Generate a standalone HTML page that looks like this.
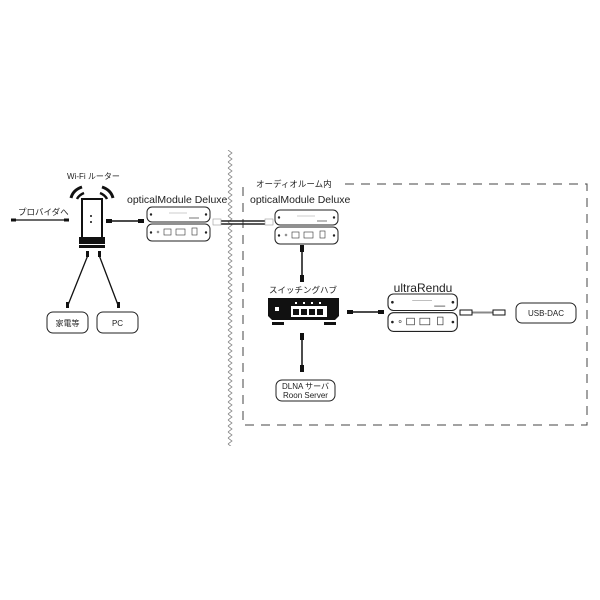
<!DOCTYPE html>
<html><head><meta charset="utf-8"><style>
html,body{margin:0;padding:0;background:#fff;width:600px;height:600px;overflow:hidden}
text{font-family:"Liberation Sans","Noto Sans CJK JP",sans-serif;fill:#222}
</style></head><body>
<svg width="600" height="600" viewBox="0 0 600 600" xmlns="http://www.w3.org/2000/svg">
<defs>
<pattern id="zz" x="226" y="0" width="8" height="6" patternUnits="userSpaceOnUse">
<polyline points="2,0 6,3 2,6" fill="none" stroke="#888" stroke-width="0.8"/>
</pattern>
<g id="mod">
<rect x="0" y="0" width="63" height="15" rx="5" fill="#fff" stroke="#222" stroke-width="1"/>
<rect x="0" y="17" width="63" height="17" rx="5" fill="#fff" stroke="#222" stroke-width="1"/>
<circle cx="4" cy="7.5" r="1.2" fill="#222"/><circle cx="59" cy="7.5" r="1.2" fill="#222"/>
<circle cx="4" cy="25.5" r="1.2" fill="#222"/><circle cx="59" cy="25.5" r="1.2" fill="#222"/>
<line x1="22" y1="6" x2="40" y2="6" stroke="#999" stroke-width="0.6"/>
<line x1="42" y1="11" x2="52" y2="11" stroke="#555" stroke-width="0.8"/>
<rect x="17" y="22" width="7" height="6" fill="none" stroke="#333" stroke-width="0.6"/>
<rect x="29" y="22" width="9" height="6" fill="none" stroke="#333" stroke-width="0.6"/>
<rect x="45" y="21" width="5" height="7" fill="none" stroke="#333" stroke-width="0.6"/>
<circle cx="11" cy="25" r="1" fill="none" stroke="#333" stroke-width="0.5"/>
</g>
</defs>
<rect x="226" y="150" width="8" height="296" fill="url(#zz)"/>
<path d="M345 184 H587 V425 H243 V184" fill="none" stroke="#444" stroke-width="1" stroke-dasharray="9,7"/>
<text x="256" y="187" font-size="8.5">オーディオルーム内</text>

<!-- router -->
<path d="M71 198 Q73 190 82 187" fill="none" stroke="#111" stroke-width="3"/>
<path d="M77 199 Q79 195 84 193" fill="none" stroke="#111" stroke-width="2.5"/>
<path d="M113 198 Q111 190 102 187" fill="none" stroke="#111" stroke-width="3"/>
<path d="M107 199 Q105 195 100 193" fill="none" stroke="#111" stroke-width="2.5"/>
<rect x="82" y="199" width="20" height="39" fill="#fff" stroke="#111" stroke-width="2"/>
<line x1="91" y1="215" x2="91" y2="217" stroke="#111" stroke-width="1.5"/>
<line x1="91" y1="221" x2="91" y2="223" stroke="#111" stroke-width="1.5"/>
<rect x="79" y="237" width="26" height="7" fill="#111"/>
<rect x="79" y="245" width="26" height="3" fill="#111"/>
<text x="67" y="179" font-size="8">Wi-Fi ルーター</text>
<text x="18" y="215" font-size="8.5">プロバイダへ</text>
<line x1="12" y1="220" x2="68" y2="220" stroke="#111" stroke-width="1.2"/>
<rect x="11" y="218.5" width="5" height="3" fill="#111"/><rect x="64" y="218.5" width="5" height="3" fill="#111"/>
<line x1="107" y1="221" x2="143" y2="221" stroke="#111" stroke-width="1.5"/>
<rect x="106" y="219" width="6" height="4" fill="#111"/><rect x="138" y="219" width="6" height="4" fill="#111"/>
<line x1="88" y1="255" x2="68" y2="305" stroke="#111" stroke-width="1.3"/>
<line x1="99" y1="255" x2="118" y2="305" stroke="#111" stroke-width="1.3"/>
<rect x="86" y="251" width="3" height="6" fill="#111"/><rect x="98" y="251" width="3" height="6" fill="#111"/>
<rect x="66" y="302" width="3" height="6" fill="#111"/><rect x="117" y="302" width="3" height="6" fill="#111"/>
<rect x="47" y="312" width="41" height="21" rx="6" fill="#fff" stroke="#222"/>
<text x="67.5" y="326" font-size="8" text-anchor="middle">家電等</text>
<rect x="97" y="312" width="41" height="21" rx="6" fill="#fff" stroke="#222"/>
<text x="117.5" y="326" font-size="8" text-anchor="middle">PC</text>

<text x="127" y="203" font-size="10.5">opticalModule Deluxe</text>
<use href="#mod" x="147" y="207"/>
<!-- fiber -->
<line x1="220" y1="221" x2="266" y2="221" stroke="#222" stroke-width="1.6"/>
<line x1="220" y1="224" x2="266" y2="224" stroke="#222" stroke-width="1.6"/>
<rect x="213" y="219" width="8" height="6" fill="#fff" stroke="#999" stroke-width="0.6"/>
<rect x="265" y="219" width="8" height="6" fill="#fff" stroke="#999" stroke-width="0.6"/>

<text x="250" y="203" font-size="10.5">opticalModule Deluxe</text>
<use href="#mod" x="275" y="210"/>
<line x1="302" y1="247" x2="302" y2="280" stroke="#111" stroke-width="1.5"/>
<rect x="300" y="245" width="4" height="7" fill="#111"/><rect x="300" y="275" width="4" height="7" fill="#111"/>

<text x="303" y="293" font-size="8.5" text-anchor="middle">スイッチングハブ</text>
<path d="M268 298 H339 V316 L335 320 H272 L268 316 Z" fill="#111"/>
<rect x="272" y="322" width="12" height="3" fill="#111"/><rect x="324" y="322" width="12" height="3" fill="#111"/>
<rect x="275" y="307" width="4" height="4" fill="#fff"/>
<rect x="291" y="306" width="36" height="11" fill="#fff"/>
<g fill="#111"><rect x="293" y="309" width="6" height="6"/><rect x="301" y="309" width="6" height="6"/><rect x="309" y="309" width="6" height="6"/><rect x="317" y="309" width="6" height="6"/></g>
<g fill="#fff"><rect x="295" y="302" width="2" height="2"/><rect x="303" y="302" width="2" height="2"/><rect x="311" y="302" width="2" height="2"/><rect x="319" y="302" width="2" height="2"/></g>
<line x1="348" y1="312" x2="382" y2="312" stroke="#111" stroke-width="1.5"/>
<rect x="347" y="310" width="6" height="4" fill="#111"/><rect x="378" y="310" width="6" height="4" fill="#111"/>
<line x1="302" y1="336" x2="302" y2="370" stroke="#111" stroke-width="1.5"/>
<rect x="300" y="333" width="4" height="7" fill="#111"/><rect x="300" y="365" width="4" height="7" fill="#111"/>
<rect x="276" y="380" width="59" height="21" rx="6" fill="#fff" stroke="#222"/>
<text x="305.5" y="389" font-size="8" text-anchor="middle">DLNA サーバ</text>
<text x="305.5" y="398" font-size="8" text-anchor="middle">Roon Server</text>

<text x="423" y="292" font-size="12" text-anchor="middle">ultraRendu</text>
<g transform="translate(388,294) scale(1.1)"><use href="#mod"/></g>
<line x1="468" y1="312.5" x2="500" y2="312.5" stroke="#888" stroke-width="2"/>
<rect x="460" y="310" width="12" height="5" fill="#fff" stroke="#111" stroke-width="1"/>
<rect x="493" y="310" width="12" height="5" fill="#fff" stroke="#111" stroke-width="1"/>
<rect x="516" y="303" width="60" height="20" rx="6" fill="#fff" stroke="#222"/>
<text x="546" y="316" font-size="8" text-anchor="middle">USB-DAC</text>
</svg>
</body></html>
